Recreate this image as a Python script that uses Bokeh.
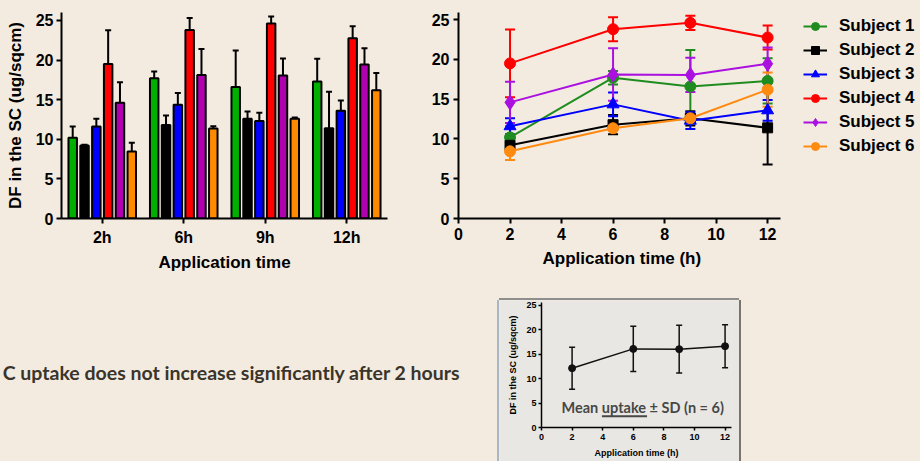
from bokeh.plotting import figure
from bokeh.models import (FixedTicker, Whisker, TeeHead, Legend, LegendItem, Label, Title,
                          ColumnDataSource, Range1d, Spacer)
from bokeh.layouts import row, column
from bokeh.embed import file_html
from bokeh.resources import INLINE

# ---------------- data ----------------
times = [2, 6, 9, 12]
time_labels = ["2h", "6h", "9h", "12h"]
subjects = ["Subject 1", "Subject 2", "Subject 3", "Subject 4", "Subject 5", "Subject 6"]

s1_mean = [10.2, 17.7, 16.6, 17.3]
s1_sd = [1.4, 0.85, 4.6, 2.85]
s2_mean = [9.2, 11.8, 12.6, 11.4]
s2_sd = [0.1, 1.2, 0.9, 4.6]
s3_mean = [11.6, 14.35, 12.3, 13.6]
s3_sd = [1.0, 1.5, 1.05, 1.3]
s4_mean = [19.5, 23.8, 24.6, 22.75]
s4_sd = [4.25, 1.5, 0.9, 1.5]
s5_mean = [14.6, 18.1, 18.05, 19.45]
s5_sd = [2.6, 3.3, 2.15, 2.05]
s6_mean = [8.45, 11.35, 12.6, 16.2]
s6_sd = [1.1, 0.3, 0.15, 2.15]

mean_all = [12.15, 16.1, 16.05, 16.65]
mean_all_sd = [4.3, 4.65, 4.9, 4.4]

y_ticks = [0, 5, 10, 15, 20, 25]
x_ticks_h = [0, 2, 4, 6, 8, 10, 12]

means = [s1_mean, s2_mean, s3_mean, s4_mean, s5_mean, s6_mean]
sds = [s1_sd, s2_sd, s3_sd, s4_sd, s5_sd, s6_sd]

bar_colors = ["#00b000", "#000000", "#0000ff", "#ff0000", "#b000b0", "#ff8a00"]
line_colors = ["#1f8c1f", "#000000", "#0000ff", "#ff0000", "#aa10e0", "#ff8a10"]
markers = ["circle", "square", "triangle", "circle", "diamond", "circle"]
marker_sizes = [11, 10, 12, 11, 15, 11]

BG = "#f3ebe0"
PANEL = "#e9e7e3"
FONT = "Liberation Sans"


def style_axes(p, tick_font, label_font, lw, tick_out, label_standoff, axis_label_standoff):
    p.xgrid.grid_line_color = None
    p.ygrid.grid_line_color = None
    p.outline_line_color = None
    for ax in p.axis:
        ax.axis_line_width = lw
        ax.axis_line_color = "black"
        ax.major_tick_line_width = lw
        ax.major_tick_line_color = "black"
        ax.minor_tick_line_color = None
        ax.major_tick_out = tick_out
        ax.major_tick_in = 0
        ax.major_label_text_font = FONT
        ax.major_label_text_font_style = "bold"
        ax.major_label_text_font_size = tick_font
        ax.major_label_text_color = "black"
        ax.major_label_standoff = label_standoff
        ax.axis_label_text_font = FONT
        ax.axis_label_text_font_style = "bold"
        ax.axis_label_text_font_size = label_font
        ax.axis_label_text_color = "black"
        ax.axis_label_standoff = axis_label_standoff


# ---------------- bar chart ----------------
p1 = figure(width=400, height=283, x_range=Range1d(0.5, 4.5), y_range=Range1d(0, 26),
            output_backend="svg", toolbar_location=None,
            min_border_left=61, min_border_right=13, min_border_top=10, min_border_bottom=63,
            background_fill_color=BG, border_fill_color=BG)
style_axes(p1, "16px", "17px", 2, 5, 3, 8)
p1.xaxis.major_label_text_font_size = "16px"
p1.xaxis.major_label_standoff = 5
p1.xaxis.axis_label_standoff = 4
p1.xaxis.ticker = FixedTicker(ticks=[1, 2, 3, 4])
p1.xaxis.major_label_overrides = {i + 1: lab for i, lab in enumerate(time_labels)}
p1.yaxis.ticker = FixedTicker(ticks=y_ticks)
p1.xaxis.axis_label = "Application time"
p1.yaxis.axis_label = "DF in the SC (ug/sqcm)"

pitch = 0.145
bw = 0.104
for k in range(6):
    xs = [i + 1 + (k - 2.5) * pitch for i in range(len(times))]
    src = ColumnDataSource(dict(x=xs, top=means[k],
                                upper=[m + s for m, s in zip(means[k], sds[k])]))
    p1.vbar(x="x", top="top", bottom=0, width=bw, source=src,
            fill_color=bar_colors[k], line_color="black", line_width=2)
    p1.add_layout(Whisker(source=src, base="x", lower="top", upper="upper",
                          line_color="black", line_width=2,
                          upper_head=TeeHead(size=6, line_color="black", line_width=2),
                          lower_head=None))

# ---------------- line chart ----------------
# frame spans the legend area as well; the x axis itself is bounded to 0..12.5
p2 = figure(width=520, height=283, x_range=Range1d(0, 17.857), y_range=Range1d(0, 25.9),
            output_backend="svg", toolbar_location=None,
            min_border_left=58, min_border_right=2, min_border_top=12, min_border_bottom=65,
            background_fill_color=BG, border_fill_color=BG)
style_axes(p2, "16px", "17px", 2, 5, 4, 7)
p2.xaxis.ticker = FixedTicker(ticks=x_ticks_h)
p2.xaxis.bounds = (0, 12.5)
p2.yaxis.ticker = FixedTicker(ticks=y_ticks)
p2.yaxis.major_label_standoff = 4
p2.add_layout(Title(text="Application time (h)", align="left", offset=84, standoff=8,
                    text_font=FONT, text_font_style="bold", text_font_size="17px",
                    text_color="black"), "below")

items = []
for k in range(6):
    src = ColumnDataSource(dict(x=times, y=means[k],
                                lo=[m - s for m, s in zip(means[k], sds[k])],
                                hi=[m + s for m, s in zip(means[k], sds[k])]))
    c = line_colors[k]
    p2.add_layout(Whisker(source=src, base="x", lower="lo", upper="hi",
                          line_color=c, line_width=2,
                          upper_head=TeeHead(size=10, line_color=c, line_width=2),
                          lower_head=TeeHead(size=10, line_color=c, line_width=2)))
    ln = p2.line("x", "y", source=src, line_color=c, line_width=2)
    sc = p2.scatter("x", "y", source=src, marker=markers[k], size=marker_sizes[k],
                    fill_color=c, line_color=c)
    items.append(LegendItem(label=subjects[k], renderers=[ln, sc]))

legend = Legend(items=items, location=(345, 62), orientation="vertical",
                label_text_font=FONT, label_text_font_style="bold",
                label_text_font_size="17px", label_text_color="black",
                glyph_width=24, glyph_height=20, label_height=20, spacing=4,
                label_standoff=12, padding=0, margin=0,
                background_fill_alpha=0, border_line_color=None)
p2.add_layout(legend)

# ---------------- bottom-left statement ----------------
p4 = figure(width=499, height=178, x_range=Range1d(0, 1), y_range=Range1d(0, 1),
            output_backend="svg", toolbar_location=None,
            x_axis_type=None, y_axis_type=None, min_border=0,
            background_fill_color=BG, border_fill_color=BG)
p4.outline_line_color = None
p4.xgrid.grid_line_color = None
p4.ygrid.grid_line_color = None
p4.add_layout(Label(x=460, y=89, x_units="screen", y_units="screen",
                    text="C uptake does not increase significantly after 2 hours",
                    text_align="right", text_baseline="middle",
                    text_font="Lato", text_font_style="bold", text_font_size="19.5px",
                    text_color="#3a342b"))

# ---------------- inset mean chart ----------------
p3 = figure(width=240, height=161, x_range=Range1d(0, 12.42), y_range=Range1d(0, 25.6),
            output_backend="svg", toolbar_location=None,
            min_border_left=42, min_border_right=8, min_border_top=2, min_border_bottom=34,
            background_fill_color=PANEL, border_fill_color=PANEL,
            styles={"box-shadow": "0 -2px 0 0 #8e8e8e, 2px 0 0 0 #7a7368, -2px 0 0 0 #a9b6c4"})
style_axes(p3, "9px", "9px", 1.5, 3, 3, 5)
p3.xaxis.ticker = FixedTicker(ticks=x_ticks_h)
p3.yaxis.ticker = FixedTicker(ticks=y_ticks)
p3.yaxis.major_label_standoff = 2
p3.xaxis.axis_label = "Application time (h)"
p3.yaxis.axis_label = "DF in the SC (ug/sqcm)"

msrc = ColumnDataSource(dict(x=times, y=mean_all,
                             lo=[m - s for m, s in zip(mean_all, mean_all_sd)],
                             hi=[m + s for m, s in zip(mean_all, mean_all_sd)]))
p3.add_layout(Whisker(source=msrc, base="x", lower="lo", upper="hi",
                      line_color="#111111", line_width=1.5,
                      upper_head=TeeHead(size=6, line_color="#111111", line_width=1.5),
                      lower_head=TeeHead(size=6, line_color="#111111", line_width=1.5)))
p3.line("x", "y", source=msrc, line_color="#111111", line_width=1.5)
p3.scatter("x", "y", source=msrc, marker="circle", size=7, fill_color="#111111",
           line_color="#111111")
p3.add_layout(Label(x=1.31, y=4.0, text="Mean uptake \u00b1 SD (n = 6)",
                    text_align="left", text_baseline="middle",
                    text_font="Lato", text_font_style="bold", text_font_size="14.5px",
                    text_color="#474747"))
# underline of the word "uptake"
p3.segment(x0=[3.95], y0=[2.3], x1=[6.9], y1=[2.3], line_color="#474747", line_width=2)

layout = column(
    row(p1, p2),
    row(p4, column(Spacer(width=240, height=17), p3), Spacer(width=181, height=178)),
)

html = file_html(layout, INLINE, title="DF uptake in the SC")
i = html.rfind("<body")
if i >= 0:
    html = html[:i] + '<body style="background-color:%s;"' % BG + html[i + 5:]
open("out.html", "w").write(html)
